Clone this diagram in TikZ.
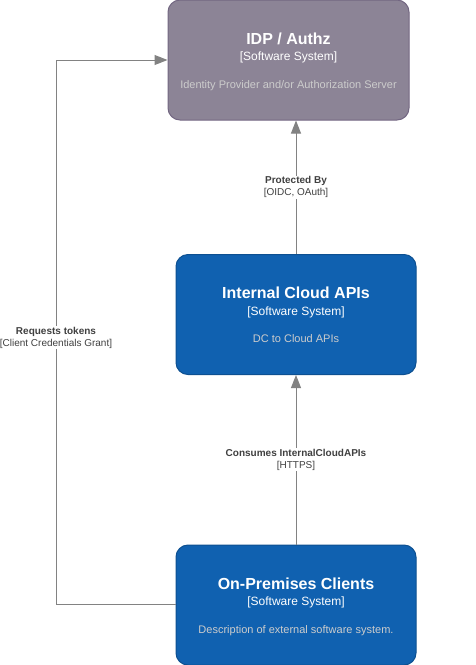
\documentclass[tikz,border=0pt]{standalone}
\usepackage{fontspec}
\setmainfont{Liberation Sans}
\usetikzlibrary{arrows.meta}

\definecolor{extgray}{HTML}{8C8496}
\definecolor{extgrayline}{HTML}{736782}
\definecolor{sysblue}{HTML}{1061B0}
\definecolor{sysblueline}{HTML}{0D5091}
\definecolor{relgray}{HTML}{828282}
\definecolor{lbltext}{HTML}{404040}
\definecolor{desctext}{HTML}{CCCCCC}

\begin{document}
\begin{tikzpicture}[x=1pt,y=-1pt,line width=1pt,
    sysbox/.style={draw,rounded corners=12pt,minimum width=240pt,minimum height=120pt,inner sep=0pt},
    ttl/.style={text=white,font=\fontsize{16}{19}\selectfont\bfseries,anchor=base,inner sep=0pt},
    sub/.style={text=white,font=\fontsize{12}{14}\selectfont,anchor=base,inner sep=0pt},
    dsc/.style={text=desctext,font=\fontsize{11}{13}\selectfont,anchor=base,inner sep=0pt},
    rel/.style={draw=relgray,-{Triangle[length=13pt,width=10pt]}},
    lbl/.style={fill=white,text=lbltext,align=center,font=\fontsize{10}{12}\selectfont,inner sep=1pt}]
      \useasboundingbox (0,0) rectangle (476,665);

      % boxes
      \node[sysbox,fill=extgray,draw=extgrayline,minimum width=241pt] (idp) at (288.5,60) {};
      \node[sysbox,fill=sysblue,draw=sysblueline] (ica) at (296,314.5) {};
      \node[sysbox,fill=sysblue,draw=sysblueline] (opc) at (296,605) {};

      \node[ttl] (idpT) at (288.5,44) {IDP / Authz};
      \node[sub] (idpS) at (288.5,60) {[Software System]};
      \node[dsc] (idpD) at (288.5,88) {Identity Provider and/or Authorization Server};

      \node[ttl] (icaT) at (296,298.5) {Internal Cloud APIs};
      \node[sub] (icaS) at (296,315) {[Software System]};
      \node[dsc] (icaD) at (296,342.5) {DC to Cloud APIs};

      \node[ttl] (opcT) at (296,589) {On-Premises Clients};
      \node[sub] (opcS) at (296,605) {[Software System]};
      \node[dsc] (opcD) at (296,633) {Description of external software system.};

      % relations
      \coordinate (c1) at (56,604);
      \coordinate (c2) at (56,60);

      \draw[rel] (ica.north) -- node[lbl] {\textbf{Protected By}\\{[OIDC, OAuth]}} (ica.north |- idp.south);
      \draw[rel] (opc.north) -- node[lbl] {\textbf{Consumes InternalCloudAPIs}\\{[HTTPS]}} (ica.south);
      \draw[rel] (opc.west |- c1) -- (c1) -- node[lbl,pos=.49] {\textbf{Requests tokens}\\{[Client Credentials Grant]}} (c2) -- (idp.west);
    \end{tikzpicture}
\end{document}
